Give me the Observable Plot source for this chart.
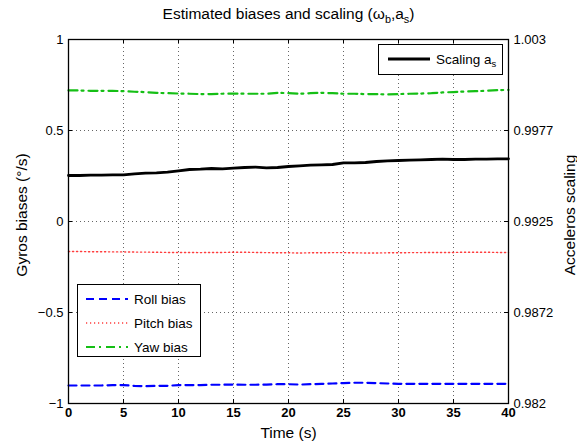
<!DOCTYPE html>
<html><head><meta charset="utf-8">
<script src="https://cdn.jsdelivr.net/npm/d3@7"></script>
<script src="https://cdn.jsdelivr.net/npm/@observablehq/plot@0.6"></script>
<style>
body{margin:0;background:#fff;font-family:"Liberation Sans",Arial,Helvetica,sans-serif;}
#wrap{position:relative;width:577px;height:445px;overflow:hidden;}
.ov{position:absolute;white-space:nowrap;color:#000;}
.title{left:0;width:577px;text-align:center;top:5px;font-size:15.5px;}
.rot{transform:translate(-50%,-50%) rotate(-90deg);font-size:15.5px;}
.xl{left:0;width:577px;text-align:center;font-size:15.5px;}
.leg{background:#fff;border:1px solid #000;font-size:13.5px;box-sizing:border-box;}
.leg .row{position:absolute;left:0;display:flex;align-items:center;height:20px;}
sub{font-size:70%;vertical-align:-0.35em;line-height:0;}
</style></head><body><div id="wrap"></div>
<script>
// ---- data ----
const time = [0,1,2,3,4,5,6,7,8,9,10,11,12,13,14,15,16,17,18,19,20,21,22,23,24,25,26,27,28,29,30,31,32,33,34,35,36,37,38,39,40];
const rollBias = [-0.901,-0.901,-0.901,-0.901,-0.899,-0.899,-0.903,-0.905,-0.903,-0.903,-0.899,-0.899,-0.899,-0.897,-0.897,-0.896,-0.897,-0.897,-0.896,-0.894,-0.894,-0.896,-0.894,-0.892,-0.890,-0.888,-0.886,-0.886,-0.888,-0.890,-0.892,-0.892,-0.892,-0.892,-0.892,-0.892,-0.892,-0.892,-0.892,-0.892,-0.892];
const pitchBias = [-0.165,-0.165,-0.166,-0.166,-0.167,-0.167,-0.168,-0.168,-0.169,-0.170,-0.170,-0.170,-0.171,-0.170,-0.170,-0.169,-0.169,-0.170,-0.171,-0.172,-0.172,-0.173,-0.172,-0.172,-0.171,-0.171,-0.172,-0.173,-0.173,-0.172,-0.172,-0.171,-0.171,-0.170,-0.170,-0.170,-0.169,-0.169,-0.169,-0.170,-0.170];
const yawBias = [0.720,0.720,0.718,0.718,0.718,0.716,0.713,0.711,0.707,0.705,0.703,0.702,0.700,0.700,0.702,0.703,0.702,0.702,0.702,0.707,0.705,0.702,0.705,0.707,0.705,0.702,0.702,0.700,0.700,0.698,0.700,0.702,0.703,0.705,0.709,0.711,0.714,0.716,0.718,0.722,0.723];
const scaling = [0.995153,0.995153,0.995173,0.995173,0.995192,0.995192,0.995250,0.995289,0.995308,0.995347,0.995423,0.995500,0.995519,0.995558,0.995539,0.995577,0.995615,0.995634,0.995596,0.995615,0.995673,0.995712,0.995750,0.995770,0.995789,0.995884,0.995884,0.995904,0.995962,0.996000,0.996020,0.996039,0.996057,0.996077,0.996096,0.996077,0.996077,0.996096,0.996096,0.996115,0.996115];
const xTicks = [0,5,10,15,20,25,30,35,40];
const yTicks = [-1,-0.5,0,0.5,1];
const leftTickLabels = ["\u22121","\u22120.5","0","0.5","1"];
const rightTickLabels = ["0.982","0.9872","0.9925","0.9977","1.003"];
const rightDomain = [0.982, 1.003];
const leftDomain = [-1, 1];
const seriesNames = ["Roll bias","Pitch bias","Yaw bias","Scaling a"];

// ---- styles ----
const styles = {
  "Roll bias": {stroke:"#0000ff", strokeWidth:2.2, strokeDasharray:"8,5"},
  "Pitch bias": {stroke:"#ff3c3c", strokeWidth:1.4, strokeDasharray:"1.2,2.8"},
  "Yaw bias": {stroke:"#15bf15", strokeWidth:2.2, strokeDasharray:"9,4,2,5"},
  "Scaling a": {stroke:"#000000", strokeWidth:2.8, strokeDasharray:null}
};

const toLeft = v => leftDomain[0] + (leftDomain[1]-leftDomain[0])*(v-rightDomain[0])/(rightDomain[1]-rightDomain[0]);
const rows = time.map((t,i)=>({t, roll:rollBias[i], pitch:pitchBias[i], yaw:yawBias[i], scale:toLeft(scaling[i])}));
const leftLabelOf = new Map(yTicks.map((v,i)=>[v, leftTickLabels[i]]));
const rightLabelOf = new Map(yTicks.map((v,i)=>[v, rightTickLabels[i]]));

const W=577,H=445,mL=68,mR=69,mT=39,mB=42;
const fw=W-mL-mR, fh=H-mT-mB, tk=4;
const grid = {stroke:"#666", strokeWidth:1, strokeDasharray:"1,3"};

const chart = Plot.plot({
  width:W, height:H, marginLeft:mL, marginRight:mR, marginTop:mT, marginBottom:mB,
  style:{fontFamily:"'Liberation Sans', Arial, sans-serif", fontSize:"13px", background:"white", color:"black", overflow:"visible"},
  x:{domain:[0,40]}, y:{domain:leftDomain},
  marks:[
    Plot.ruleX(xTicks.slice(1,-1), {x:d=>d, ...grid}),
    Plot.ruleY(yTicks.slice(1,-1), {y:d=>d, ...grid}),
    Plot.line(rows, {x:"t", y:"yaw", ...styles["Yaw bias"]}),
    Plot.line(rows, {x:"t", y:"pitch", ...styles["Pitch bias"]}),
    Plot.line(rows, {x:"t", y:"roll", ...styles["Roll bias"]}),
    Plot.line(rows, {x:"t", y:"scale", ...styles["Scaling a"]}),
    Plot.tickX(xTicks, {x:d=>d, insetTop:fh-tk, stroke:"black"}),
    Plot.tickX(xTicks, {x:d=>d, insetBottom:fh-tk, stroke:"black"}),
    Plot.tickY(yTicks, {y:d=>d, insetRight:fw-tk, stroke:"black"}),
    Plot.tickY(yTicks, {y:d=>d, insetLeft:fw-tk, stroke:"black"}),
    Plot.frame({stroke:"black", strokeWidth:1.3}),
    Plot.axisX(xTicks, {tickSize:0, tickPadding:4, fontWeight:"bold", label:null}),
    Plot.axisY(yTicks, {tickSize:0, tickPadding:5, label:null, tickFormat:d=>leftLabelOf.get(d)}),
    Plot.axisY(yTicks, {anchor:"right", tickSize:0, tickPadding:5, label:null, tickFormat:d=>rightLabelOf.get(d)})
  ]
});
const wrap = document.getElementById("wrap");
wrap.appendChild(chart);

function add(html, cls, css){ const d=document.createElement("div"); d.className="ov "+cls; d.innerHTML=html; Object.assign(d.style, css||{}); wrap.appendChild(d); return d; }
add("Estimated biases and scaling (&omega;<sub>b</sub>,a<sub>s</sub>)", "title");
add("Gyros biases (°/s)", "rot", {left:"22px", top:"215px"});
add("Acceleros scaling", "rot", {left:"570px", top:"215px"});
add("Time (s)", "xl", {top:"424px"});

function sample(name){
  const s=styles[name];
  return `<svg width="44" height="10" style="margin-right:5px"><line x1="1" y1="5" x2="43" y2="5" stroke="${s.stroke}" stroke-width="${s.strokeWidth}" ${s.strokeDasharray?`stroke-dasharray="${s.strokeDasharray}"`:""}/></svg>`;
}
const legTR = add("", "leg", {left:"378px", top:"44px", width:"125px", height:"31px"});
legTR.innerHTML = `<div class="row" style="top:4px;left:8px">${sample(seriesNames[3])}<span>${seriesNames[3]}<sub>s</sub></span></div>`;
const legBL = add("", "leg", {left:"77px", top:"284px", width:"124px", height:"73px"});
legBL.innerHTML = seriesNames.slice(0,3).map((n,i)=>`<div class="row" style="top:${4+i*24}px;left:7px">${sample(n)}<span>${n}</span></div>`).join("");
</script></body></html>
